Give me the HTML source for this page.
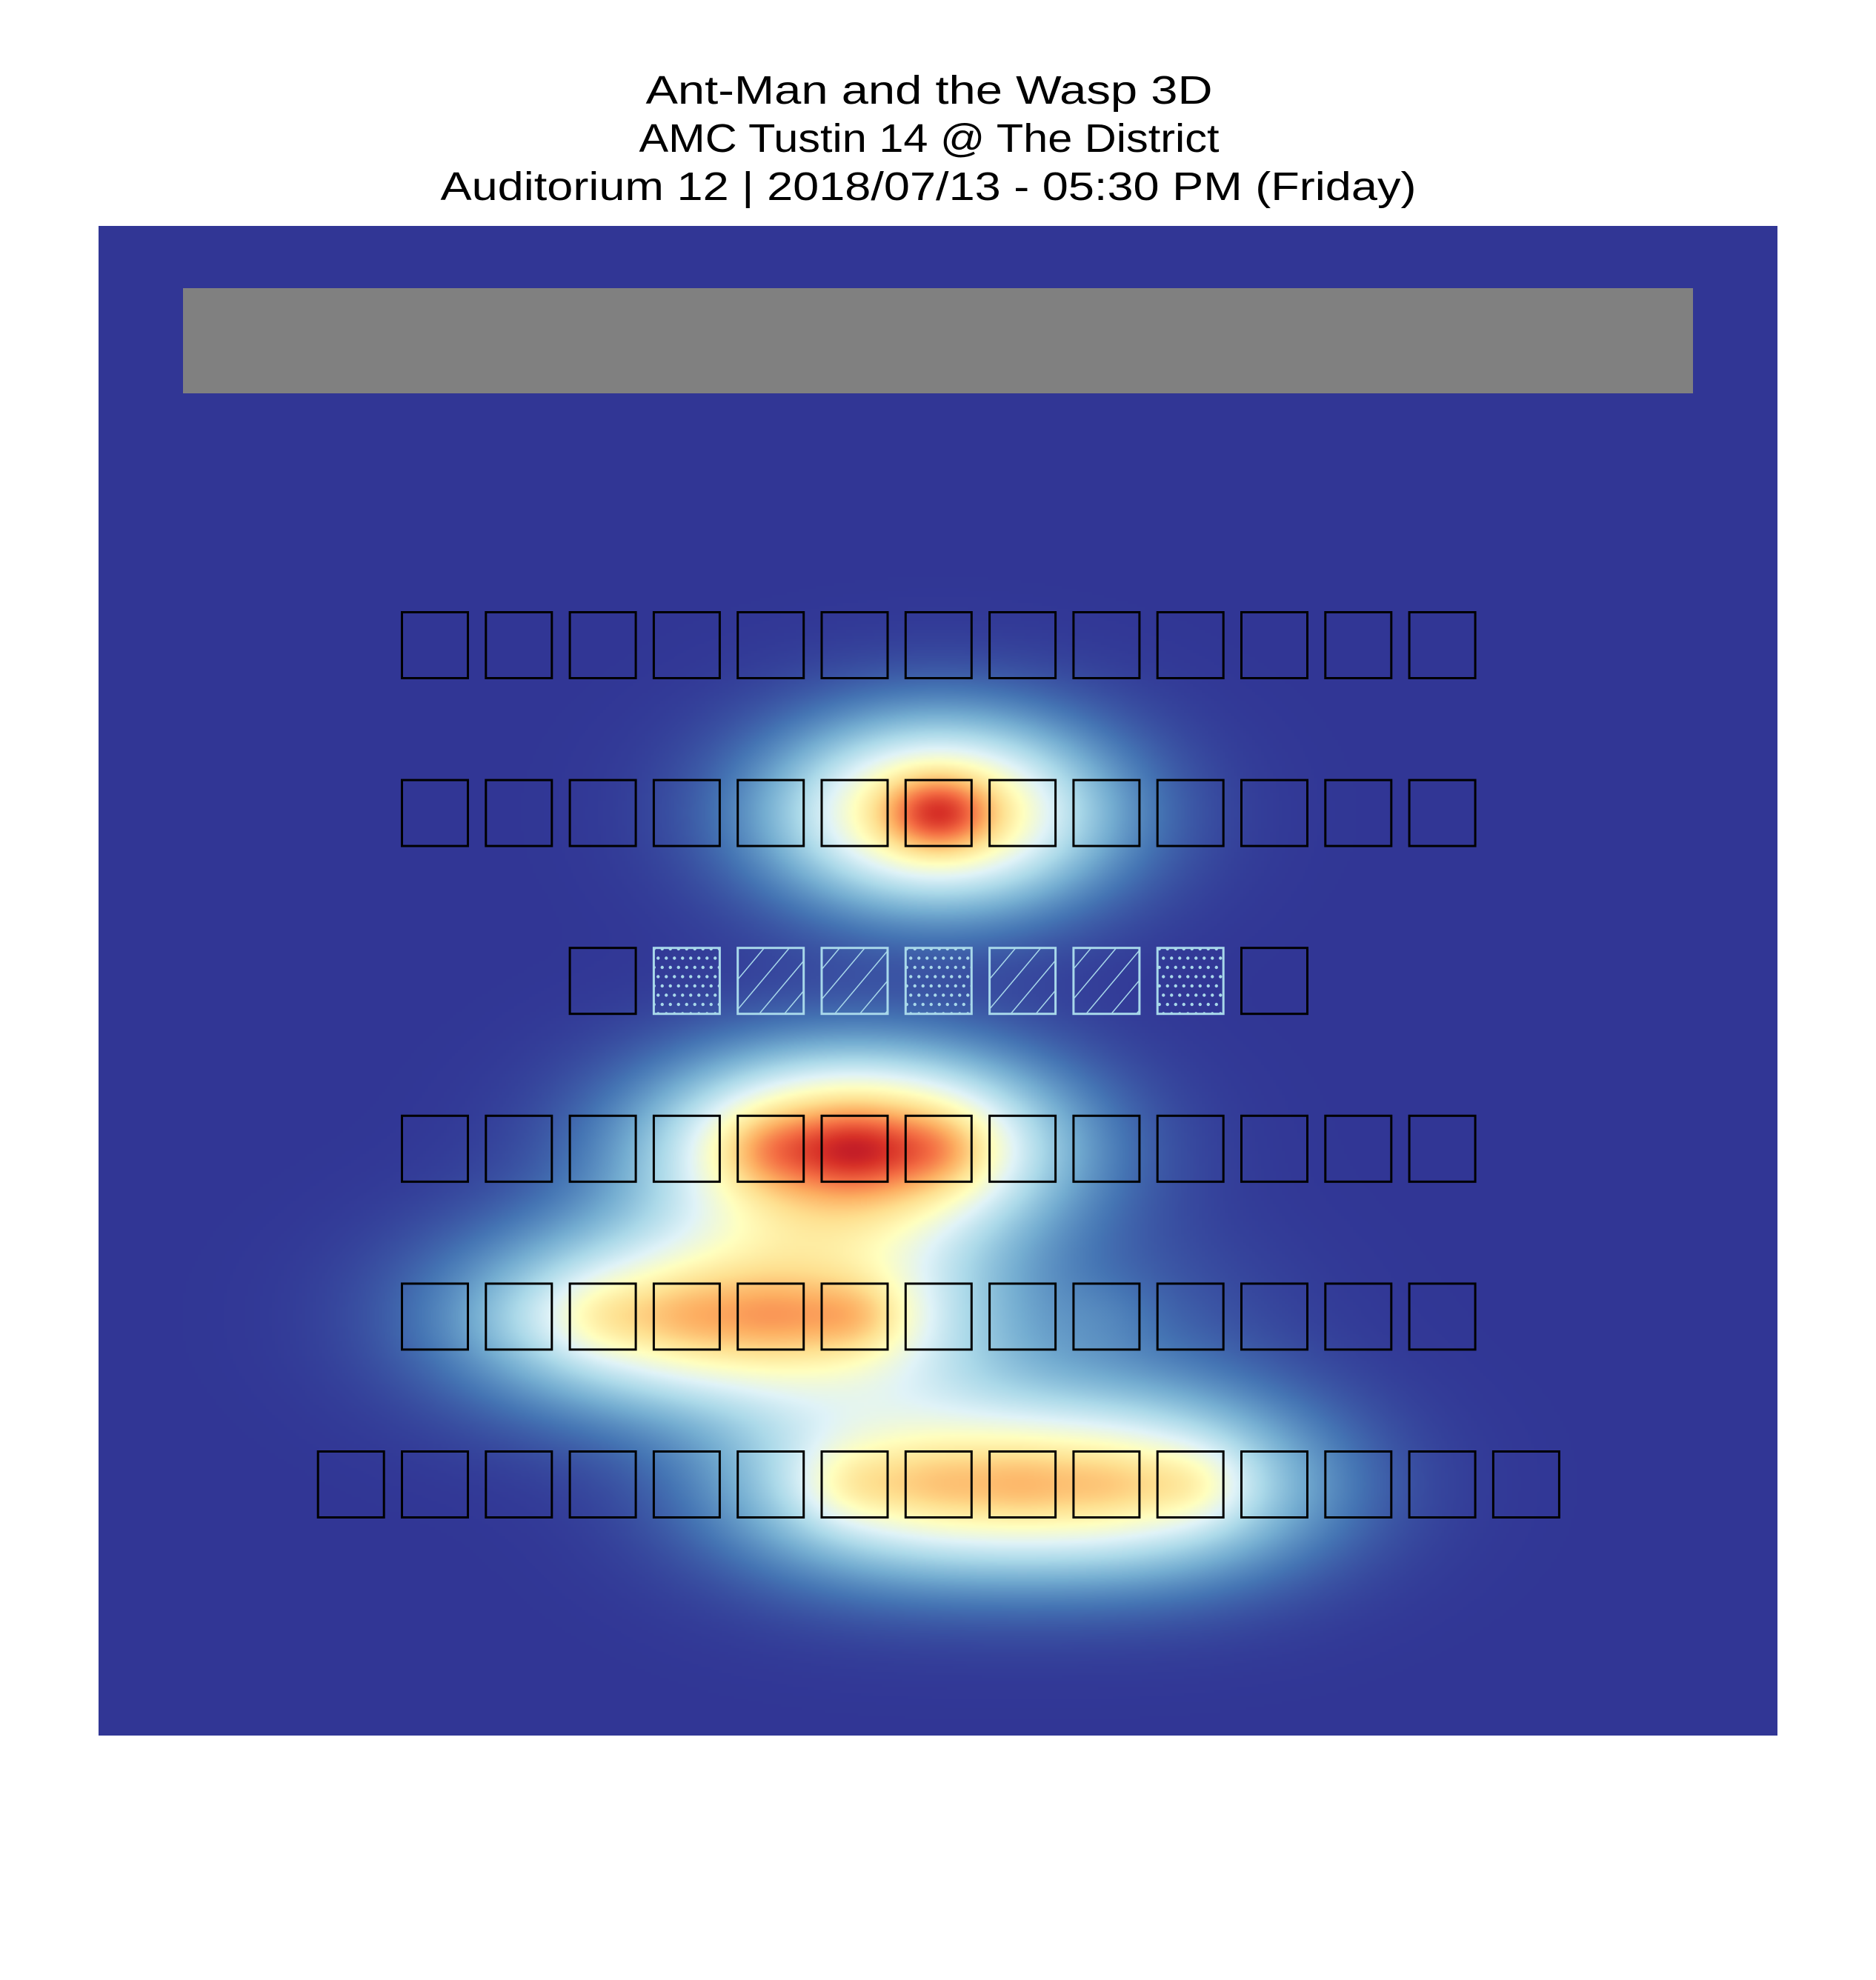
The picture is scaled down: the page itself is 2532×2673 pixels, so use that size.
<!DOCTYPE html>
<html><head><meta charset="utf-8">
<style>
html,body{margin:0;padding:0;background:#fff;}
#wrap{position:relative;width:2532px;height:2673px;overflow:hidden;}
svg,canvas{position:absolute;left:0;top:0;}
</style></head>
<body>
<div id="wrap">
<canvas id="heat" width="567" height="510" style="left:133px;top:305px;width:2266px;height:2038px;"></canvas>
<svg id="fig" width="2532" height="2673" xmlns="http://www.w3.org/2000/svg">
  <defs>
    <pattern id="hatch" patternUnits="userSpaceOnUse" width="26" height="26" patternTransform="rotate(40)">
      <line x1="0" y1="0" x2="0" y2="26" stroke="#a8d8ea" stroke-width="3"/>
    </pattern>
    <pattern id="dots" patternUnits="userSpaceOnUse" width="11" height="25">
      <circle cx="2.75" cy="6" r="2.2" fill="#a8d8ea"/>
      <circle cx="8.25" cy="18.5" r="2.2" fill="#a8d8ea"/>
    </pattern>
  </defs>
  <g font-family="Liberation Sans, sans-serif" font-size="54" fill="#000" text-anchor="middle">
    <text x="1254" y="140" textLength="765" lengthAdjust="spacingAndGlyphs">Ant-Man and the Wasp 3D</text>
    <text x="1254" y="205" textLength="783" lengthAdjust="spacingAndGlyphs">AMC Tustin 14 @ The District</text>
    <text x="1253" y="270" textLength="1317" lengthAdjust="spacingAndGlyphs">Auditorium 12 | 2018/07/13 - 05:30 PM (Friday)</text>
  </g>
  <rect x="247" y="389" width="2038" height="142" fill="#808080"/>
  <g id="seats"></g>
</svg>
</div>
<script>
// Seat map data
const rowSeatCounts = [13, 13, 9, 13, 13, 15];
const rowStartCols = [0, 0, 2, 0, 0, -1];
// row 3 seat status: 0 = open, 1 = dotted, 2 = hatched
const row3Status = [0, 1, 2, 2, 1, 2, 2, 1, 0];
// heat values per seat (index within row)
const heatRow1 = [0,0,0,0,0,0,0,0,0,0,0,0,0];
const heatRow2 = [0,0,0,0,0,0,0.9,0,0,0,0,0,0];
const heatRow3 = [0,0,0,0,0,0,0,0,0];
const heatRow4 = [0,0,0,0,0.4,0.47,0.4,0,0,0,0,0,0];
const heatRow5 = [0,0.06,0.3,0.25,0.25,0.42,0,0,0.08,0,0,0,0];
const heatRow6 = [0,0,0,0,0,0,0.34,0.24,0.24,0.24,0.34,0,0,0,0];
const heatRows = [heatRow1, heatRow2, heatRow3, heatRow4, heatRow5, heatRow6];

const colLeft0 = 541, colPitch = 113.3, rowTop0 = 825, rowPitch = 226.6, seatSize = 92;
function seatX(row, i){ return colLeft0 + (rowStartCols[row] + i) * colPitch; }
function seatY(row){ return rowTop0 + row * rowPitch; }

const NS = 'http://www.w3.org/2000/svg';
const g = document.getElementById('seats');
for (let r = 0; r < rowSeatCounts.length; r++) {
  for (let i = 0; i < rowSeatCounts[r]; i++) {
    const x = seatX(r, i), y = seatY(r);
    let st = r === 2 ? row3Status[i] : 0;
    if (st) {
      const bg = document.createElementNS(NS, 'rect');
      bg.setAttribute('x', x + 1.5); bg.setAttribute('y', y + 1.5);
      bg.setAttribute('width', seatSize - 3); bg.setAttribute('height', seatSize - 3);
      bg.setAttribute('fill', st === 1 ? 'url(#dots)' : 'url(#hatch)');
      
      
      g.appendChild(bg);
    }
    const s = document.createElementNS(NS, 'rect');
    s.setAttribute('x', x + 1.5); s.setAttribute('y', y + 1.5);
    s.setAttribute('width', seatSize - 3); s.setAttribute('height', seatSize - 3);
    s.setAttribute('fill', 'none');
    s.setAttribute('stroke', st ? '#a8d8ea' : '#000');
    s.setAttribute('stroke-width', '3');
    
    
    g.appendChild(s);
  }
}

// heat field
const stops = ['#313695','#4575b4','#74add1','#abd9e9','#e0f3f8','#ffffbf','#fee090','#fdae61','#f46d43','#d73027','#a50026'].map(h => [parseInt(h.substr(1,2),16),parseInt(h.substr(3,2),16),parseInt(h.substr(5,2),16)]);
function cmap(v){
  v = Math.max(0, Math.min(1, v)) * 10;
  const i = Math.min(9, Math.floor(v)), t = v - i;
  const a = stops[i], b = stops[i+1];
  return [a[0]+(b[0]-a[0])*t, a[1]+(b[1]-a[1])*t, a[2]+(b[2]-a[2])*t];
}
const pts = [];
for (let r = 0; r < heatRows.length; r++) for (let i = 0; i < heatRows[r].length; i++) {
  if (heatRows[r][i] > 0) pts.push([seatX(r, i) + seatSize/2, seatY(r) + seatSize/2, heatRows[r][i]]);
}
const cv = document.getElementById('heat'), ctx = cv.getContext('2d');
const W = cv.width, H = cv.height, img = ctx.createImageData(W, H);
const sx = 2266 / W, sy = 2038 / H;
const n1x = 2*50*50, n1y = 2*35*35, w1x = 2*155*155, w1y = 2*88*88;
for (let py = 0; py < H; py++) for (let px = 0; px < W; px++) {
  const X = 133 + (px + 0.5) * sx, Y = 305 + (py + 0.5) * sy;
  let v = 0;
  for (const p of pts) {
    const dx = X - p[0], dy = Y - p[1];
    v += p[2] * (0.3 * Math.exp(-(dx*dx/n1x + dy*dy/n1y)) + 0.7 * Math.exp(-(dx*dx/w1x + dy*dy/w1y)));
  }
  const c = cmap(v), k = (py * W + px) * 4;
  img.data[k] = c[0]; img.data[k+1] = c[1]; img.data[k+2] = c[2]; img.data[k+3] = 255;
}
ctx.putImageData(img, 0, 0);
</script>
</body></html>
